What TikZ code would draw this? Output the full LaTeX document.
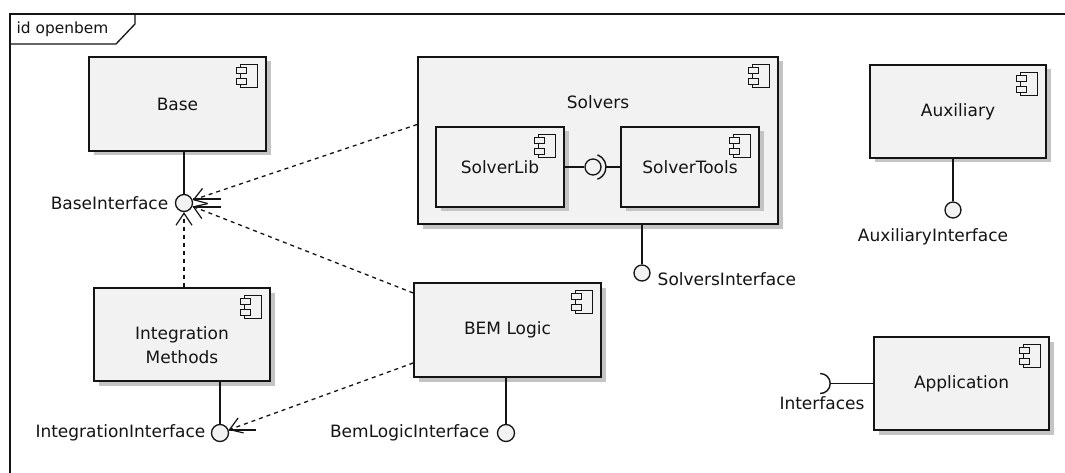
\documentclass[tikz,border=0pt]{standalone}
\usepackage{fontspec}
\setmainfont{DejaVu Sans}
\usetikzlibrary{arrows.meta,shadows,calc}
\definecolor{boxfill}{HTML}{F2F2F2}
\definecolor{shadowc}{HTML}{C4C4C4}
\definecolor{ink}{HTML}{141414}
\begin{document}
\begin{tikzpicture}[x=1pt,y=-1pt,
  every node/.style={text=ink},
  font=\fontsize{17}{24}\selectfont,
  line width=1.4pt, draw=ink,
  comp/.style={draw=ink, fill=boxfill, line width=1.6pt, inner sep=0pt,
    drop shadow={shadow xshift=4.5pt, shadow yshift=-4.5pt, fill=shadowc, opacity=1}},
  iface/.style={circle, draw=ink, fill=boxfill, minimum size=17pt, inner sep=0pt, line width=1.3pt},
  lbl/.style={inner sep=0pt},
  dep/.style={draw=ink, dash pattern=on 4pt off 4pt, line width=1.3pt,
    -{Straight Barb[length=12pt,width=16pt,line width=1.2pt]}},
  compicon/.pic={
    \draw[line width=1.2pt, fill=boxfill] (-17,0) rectangle (0,23);
    \draw[line width=1.2pt, fill=boxfill] (-21,3) rectangle (-11,9.5);
    \draw[line width=1.2pt, fill=boxfill] (-21,14) rectangle (-11,20.5);
  }]
\useasboundingbox (0,0) rectangle (1065,473);
\fill[white] (0,0) rectangle (1065,473);

% frame
\draw[line width=1.6pt] (10,473) -- (10,14) -- (1065,14);
\draw[line width=1.3pt] (10,44) -- (116,44) -- (135,24) -- (135,14);
\node[lbl, anchor=west, font=\fontsize{15.4}{18}\selectfont] (frametitle) at (16,29) {id openbem};

% components
\node[comp, minimum width=177pt, minimum height=94pt] (base) at (177.5,104) {Base};
\node[comp, minimum width=360pt, minimum height=167pt] (solvers) at (598,140.5) {};
\node[lbl] (solverslbl) at (598,102) {Solvers};
\node[comp, minimum width=128pt, minimum height=80pt] (solverlib) at (500,167) {SolverLib};
\node[comp, minimum width=138pt, minimum height=80pt] (solvertools) at (690,167) {SolverTools};
\node[comp, minimum width=176pt, minimum height=93pt] (aux) at (958,111.5) {Auxiliary};
\node[comp, minimum width=176pt, minimum height=93pt] (integ) at (182,334.5) {};
\node[lbl, align=center] (integlbl) at (182,345) {Integration\\Methods};
\node[comp, minimum width=187pt, minimum height=94pt] (bem) at (507.5,330) {BEM Logic};
\node[comp, minimum width=175pt, minimum height=93pt] (app) at (961.5,383.5) {Application};

% component icons
\foreach \n in {base,solvers,solverlib,solvertools,aux,integ,bem,app}
  \pic at ([xshift=-9pt,yshift=-8pt]\n.north east) {compicon};

% interfaces
\node[iface] (bi) at (184,203) {};
\node[iface] (ii) at (220,433) {};
\node[iface, minimum size=16pt] (si) at (642,273) {};
\node[iface] (bli) at (506,433) {};
\node[iface, minimum size=16pt] (ai) at (953,210) {};
\node[iface, minimum size=16pt] (ball) at (593,167) {};

% interface labels
\node[lbl, anchor=east] (bilbl) at (169,203) {BaseInterface};
\node[lbl, anchor=east] (iilbl) at (206,433) {IntegrationInterface};
\node[lbl, anchor=east] (blilbl) at (490,433) {BemLogicInterface};
\node[lbl, anchor=west] (silbl) at (657,279) {SolversInterface};
\node[lbl] (ailbl) at (933,237) {AuxiliaryInterface};
\node[lbl] (applbl) at (822,403) {Interfaces};

% lollipop connectors
\draw (base.south -| bi) -- (bi);
\draw (solvers.south -| si) -- (si);
\draw (aux.south -| ai) -- (ai);
\draw (integ.south -| ii) -- (ii);
\draw (bem.south -| bli) -- (bli);

% internal assembly SolverLib - SolverTools
\draw (solverlib.east) -- (ball);
\draw (ball.center) ++(-70:13) arc[start angle=-70, end angle=70, radius=13];
\coordinate (sockR) at ([xshift=13pt]ball.center);
\draw (sockR) -- (sockR -| solvertools.west);

% Application required interface
\coordinate (appsock) at ([xshift=-53pt]app.west);
\draw (app.west) -- ([xshift=10pt]appsock);
\draw (appsock) ++(0,-10) arc[start angle=-90, end angle=90, radius=10];

% dependencies
\draw[dep] ([yshift=16pt]solvers.west) -- (bi);
\draw[dep] ([yshift=37pt]bem.west) -- (bi);
\draw[dep] (integ.north -| bi) -- (bi);
\draw[dep] ([yshift=-33pt]bem.west) -- (ii);

% stub lines at interface circles
\draw ([yshift=4pt]bi.east) -- ++(28,0);
\draw ([yshift=-4pt]bi.east) -- ++(28,0);
\draw ([yshift=3pt]ii.east) -- ++(27,0);
\end{tikzpicture}
\end{document}
